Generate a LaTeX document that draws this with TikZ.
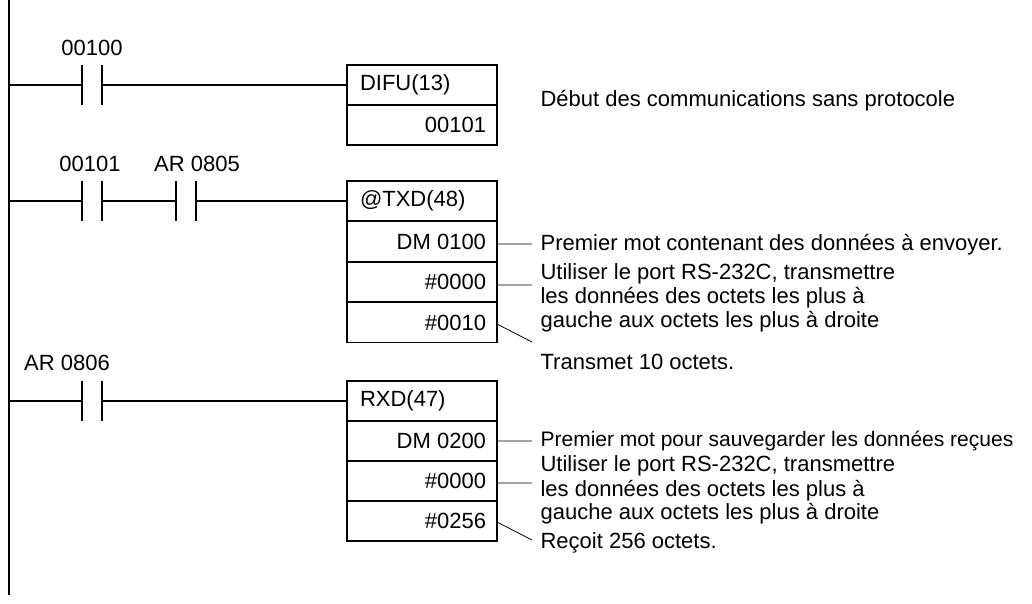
\documentclass[tikz,border=0pt]{standalone}
\usepackage{fontspec}
\setmainfont{Liberation Sans}
\begin{document}
\begin{tikzpicture}[x=1pt,y=-1pt,line width=1.2pt,
  t/.style={font=\fontsize{22}{24}\selectfont,inner sep=0pt},
  cell/.style={draw,minimum width=150pt,minimum height=40pt,inner sep=0pt},
  lbl/.style={t,anchor=west}]
\useasboundingbox (0,0) rectangle (1032,604);
\coordinate (rt) at (9,0); \coordinate (rb) at (9,595);
\draw (rt) -- (rb);
\newcommand{\mycontact}[2]{%
  \draw (#1-10,#2-20) -- (#1-10,#2+20) (#1+10,#2-20) -- (#1+10,#2+20);}
% rung 1
\node[cell] (d1) at (422,85) {};
\node[t,anchor=west] at (d1.west) [xshift=13pt] {DIFU(13)};
\node[cell] (d2) at (422,125) {};
\node[t,anchor=east] at (d2.east) [xshift=-11pt] {00101};
\coordinate (a1) at (9,85);
\draw (a1) -- (82,85) (102,85) -- (d1.west);
\mycontact{92}{85}
\node[t] (l1) at (92,48) {00100};
\node[lbl] (n1) at (540,101) {Début des communications sans protocole};
% rung 2
\node[cell] (t1) at (422,201) {};
\node[t,anchor=west] at (t1.west) [xshift=13pt] {@TXD(48)};
\node[cell] (t2) at (422,241.5) {};
\node[t,anchor=east] at (t2.east) [xshift=-11pt] {DM 0100};
\node[cell] (t3) at (422,282) {};
\node[t,anchor=east] at (t3.east) [xshift=-11pt] {\#0000};
\node[cell] (t4) at (422,322.5) {};
\node[t,anchor=east] at (t4.east) [xshift=-11pt] {\#0010};
\coordinate (a2) at (9,201);
\draw (a2) -- (82,201) (102,201) -- (176,201) (196,201) -- (t1.west);
\mycontact{92}{201}\mycontact{186}{201}
\node[t] (l2) at (90,164) {00101};
\node[t] (l3) at (197,164) {AR 0805};
\coordinate (p1) at (532,244); \coordinate (p2) at (532,285); \coordinate (p3) at (532,342);
\draw[line width=0.8pt] (t2.east |- p1) -- (p1) (t3.east |- p2) -- (p2) (497,324) -- (p3);
\node[lbl] (m1) at (540,245) {Premier mot contenant des données à envoyer.};
\node[lbl] (m2) at (540,274) {Utiliser le port RS-232C, transmettre};
\node[lbl] (m3) at (540,298) {les données des octets les plus à};
\node[lbl] (m4) at (540,322) {gauche aux octets les plus à droite};
\node[lbl] (m5) at (540,362) {Transmet 10 octets.};
% rung 3
\node[cell] (r1) at (422,401) {};
\node[t,anchor=west] at (r1.west) [xshift=13pt] {RXD(47)};
\node[cell] (r2) at (422,441) {};
\node[t,anchor=east] at (r2.east) [xshift=-11pt] {DM 0200};
\node[cell] (r3) at (422,481) {};
\node[t,anchor=east] at (r3.east) [xshift=-11pt] {\#0000};
\node[cell] (r4) at (422,521) {};
\node[t,anchor=east] at (r4.east) [xshift=-11pt] {\#0256};
\coordinate (a3) at (9,401);
\draw (a3) -- (82,401) (102,401) -- (r1.west);
\mycontact{92}{401}
\node[t] (l4) at (67,363) {AR 0806};
\coordinate (q1) at (532,441); \coordinate (q2) at (532,483); \coordinate (q3) at (532,540);
\draw[line width=0.8pt] (r2.east |- q1) -- (q1) (r3.east |- q2) -- (q2) (497,522) -- (q3);
\node[lbl,font=\fontsize{21}{24}\selectfont] (k1) at (540,441) {Premier mot pour sauvegarder les données reçues};
\node[lbl] (k2) at (540,466) {Utiliser le port RS-232C, transmettre};
\node[lbl] (k3) at (540,491) {les données des octets les plus à};
\node[lbl] (k4) at (540,514) {gauche aux octets les plus à droite};
\node[lbl] (k5) at (540,543) {Reçoit 256 octets.};
\end{tikzpicture}
\end{document}
